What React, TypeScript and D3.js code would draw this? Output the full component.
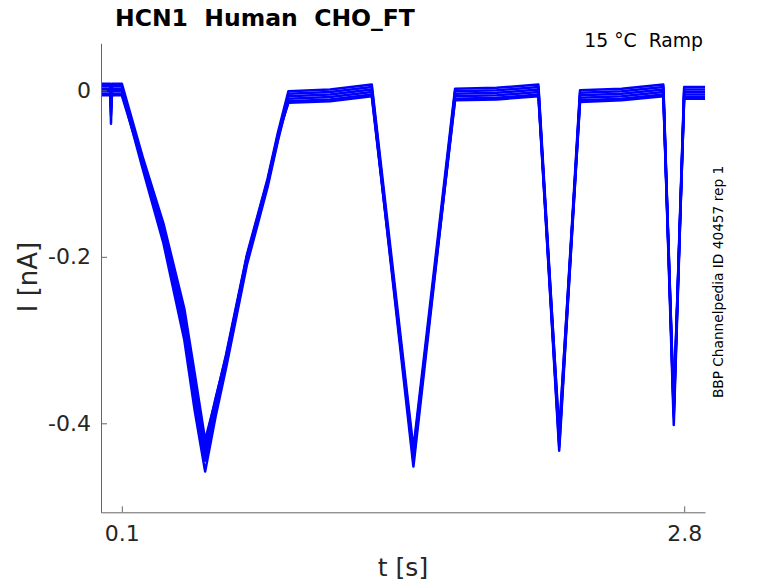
import { useEffect, useRef, type FC } from 'react';
import * as d3 from 'd3';

// sample times [s], shared by all sweeps
const TIME_S = [
  0, 0.044, 0.048, 0.053, 0.1, 0.2, 0.3, 0.4, 0.45, 0.5, 0.55, 0.6, 0.7, 0.8,
  0.85, 0.9, 1.1, 1.3, 1.5, 1.7, 1.9, 2.1, 2.2, 2.3, 2.5, 2.7, 2.75, 2.8, 2.9,
];

// current [nA] per sweep
const SWEEP_A = [
  0.008, 0.008, -0.04, 0.008, 0.008, -0.08, -0.16, -0.262, -0.34, -0.42,
  -0.372, -0.318, -0.198, -0.106, -0.05, -0.001, 0.001, 0.007, -0.43, 0.002,
  0.003, 0.007, -0.415, 0.0, 0.002, 0.007, -0.38, 0.004, 0.004,
];
const SWEEP_B = [
  0.005, 0.005, -0.02, 0.005, 0.005, -0.09, -0.178, -0.29, -0.372, -0.445,
  -0.385, -0.33, -0.207, -0.113, -0.058, -0.004, -0.002, 0.004, -0.445,
  -0.001, 0.0, 0.004, -0.428, -0.003, -0.001, 0.004, -0.392, 0.001, 0.001,
];
const SWEEP_C = [
  0.002, 0.002, -0.03, 0.002, 0.002, -0.084, -0.168, -0.275, -0.352, -0.432,
  -0.375, -0.322, -0.2, -0.108, -0.054, -0.007, -0.005, 0.001, -0.438, -0.004,
  -0.003, 0.001, -0.42, -0.006, -0.004, 0.001, -0.385, -0.002, -0.002,
];
const SWEEP_D = [
  -0.001, -0.001, -0.012, -0.001, -0.001, -0.094, -0.184, -0.3, -0.385,
  -0.458, -0.392, -0.334, -0.21, -0.116, -0.06, -0.01, -0.008, -0.002, -0.452,
  -0.007, -0.006, -0.002, -0.433, -0.009, -0.007, -0.002, -0.402, -0.005,
  -0.005,
];
const SWEEP_E = [
  -0.004, -0.004, -0.025, -0.004, -0.004, -0.082, -0.165, -0.27, -0.355,
  -0.438, -0.38, -0.326, -0.204, -0.111, -0.056, -0.013, -0.011, -0.005,
  -0.435, -0.01, -0.009, -0.005, -0.41, -0.012, -0.01, -0.005, -0.378, -0.008,
  -0.008,
];
const SWEEP_F = [
  -0.006, -0.006, -0.015, -0.006, -0.006, -0.088, -0.174, -0.284, -0.366,
  -0.426, -0.37, -0.32, -0.201, -0.109, -0.053, -0.015, -0.013, -0.007, -0.44,
  -0.012, -0.011, -0.007, -0.424, -0.014, -0.012, -0.007, -0.388, -0.01,
  -0.01,
];
const SWEEPS = [SWEEP_A, SWEEP_B, SWEEP_C, SWEEP_D, SWEEP_E, SWEEP_F];

const X_TICKS = [0.1, 2.8];
const X_TICK_LABELS = ['0.1', '2.8'];
const Y_TICKS = [-0.4, -0.2, 0];
const Y_TICK_LABELS = ['-0.4', '-0.2', '0'];

const TITLE = 'HCN1  Human  CHO_FT';
const CONDITION = '15 °C  Ramp';
const SOURCE = 'BBP Channelpedia ID 40457 rep 1';

const WIDTH = 778;
const HEIGHT = 583;
const FONT = '"DejaVu Sans", sans-serif';
const TEXT_COLOR = '#262626';
const AXIS_COLOR = '#666666';

const App: FC = () => {
  const svgRef = useRef<SVGSVGElement>(null);

  useEffect(() => {
    document.body.style.margin = '0';
    if (!svgRef.current) return;

    const svg = d3.select(svgRef.current);
    svg.selectAll('*').remove();

    const x = d3.scaleLinear().domain([0, 2.9]).range([101, 705]);
    const y = d3.scaleLinear().domain([-0.5069, 0.0565]).range([512.3, 43.3]);

    const line = d3
      .line<number>()
      .x((_, i) => x(TIME_S[i]))
      .y((d) => y(d));

    svg
      .append('g')
      .selectAll('path')
      .data(SWEEPS)
      .enter()
      .append('path')
      .attr('d', (d) => line(d))
      .attr('fill', 'none')
      .attr('stroke', '#0000ff')
      .attr('stroke-width', 2.5)
      .attr('stroke-linejoin', 'round');

    const xAxis = d3
      .axisBottom(x)
      .tickValues(X_TICKS)
      .tickFormat((_, i) => X_TICK_LABELS[i])
      .tickSizeInner(-6)
      .tickSizeOuter(0)
      .tickPadding(13);

    const yAxis = d3
      .axisLeft(y)
      .tickValues(Y_TICKS)
      .tickFormat((_, i) => Y_TICK_LABELS[i])
      .tickSizeInner(-6)
      .tickSizeOuter(0)
      .tickPadding(10);

    const styleAxis = (g: d3.Selection<SVGGElement, unknown, null, undefined>) => {
      g.attr('font-family', FONT).attr('font-size', 22);
      g.select('.domain').attr('stroke', AXIS_COLOR);
      g.selectAll('.tick line').attr('stroke', AXIS_COLOR);
      g.selectAll('.tick text').attr('fill', TEXT_COLOR);
    };

    svg
      .append('g')
      .attr('transform', `translate(0,${y.range()[0]})`)
      .call(xAxis)
      .call(styleAxis);

    svg
      .append('g')
      .attr('transform', `translate(${x.range()[0]},0)`)
      .call(yAxis)
      .call(styleAxis);

    // keep the double spaces of the labels
    svg
      .append('text')
      .attr('x', 115)
      .attr('y', 26)
      .attr('font-family', FONT)
      .attr('font-size', 23.5)
      .attr('font-weight', 'bold')
      .attr('fill', '#000')
      .style('white-space', 'pre')
      .text(TITLE);

    svg
      .append('text')
      .attr('x', 703)
      .attr('y', 47)
      .attr('text-anchor', 'end')
      .attr('font-family', FONT)
      .attr('font-size', 18.8)
      .attr('fill', '#000')
      .style('white-space', 'pre')
      .text(CONDITION);

    svg
      .append('text')
      .attr('x', 403)
      .attr('y', 576)
      .attr('text-anchor', 'middle')
      .attr('font-family', FONT)
      .attr('font-size', 25)
      .attr('fill', TEXT_COLOR)
      .text('t [s]');

    svg
      .append('text')
      .attr('transform', 'translate(37,277) rotate(-90)')
      .attr('text-anchor', 'middle')
      .attr('font-family', FONT)
      .attr('font-size', 26)
      .attr('fill', TEXT_COLOR)
      .text('I [nA]');

    svg
      .append('text')
      .attr('transform', 'translate(723,282) rotate(-90)')
      .attr('text-anchor', 'middle')
      .attr('font-family', FONT)
      .attr('font-size', 13.7)
      .attr('fill', '#000')
      .text(SOURCE);
  }, []);

  return (
    <svg
      ref={svgRef}
      width={WIDTH}
      height={HEIGHT}
      style={{ display: 'block', background: '#fff' }}
    />
  );
};

export default App;
